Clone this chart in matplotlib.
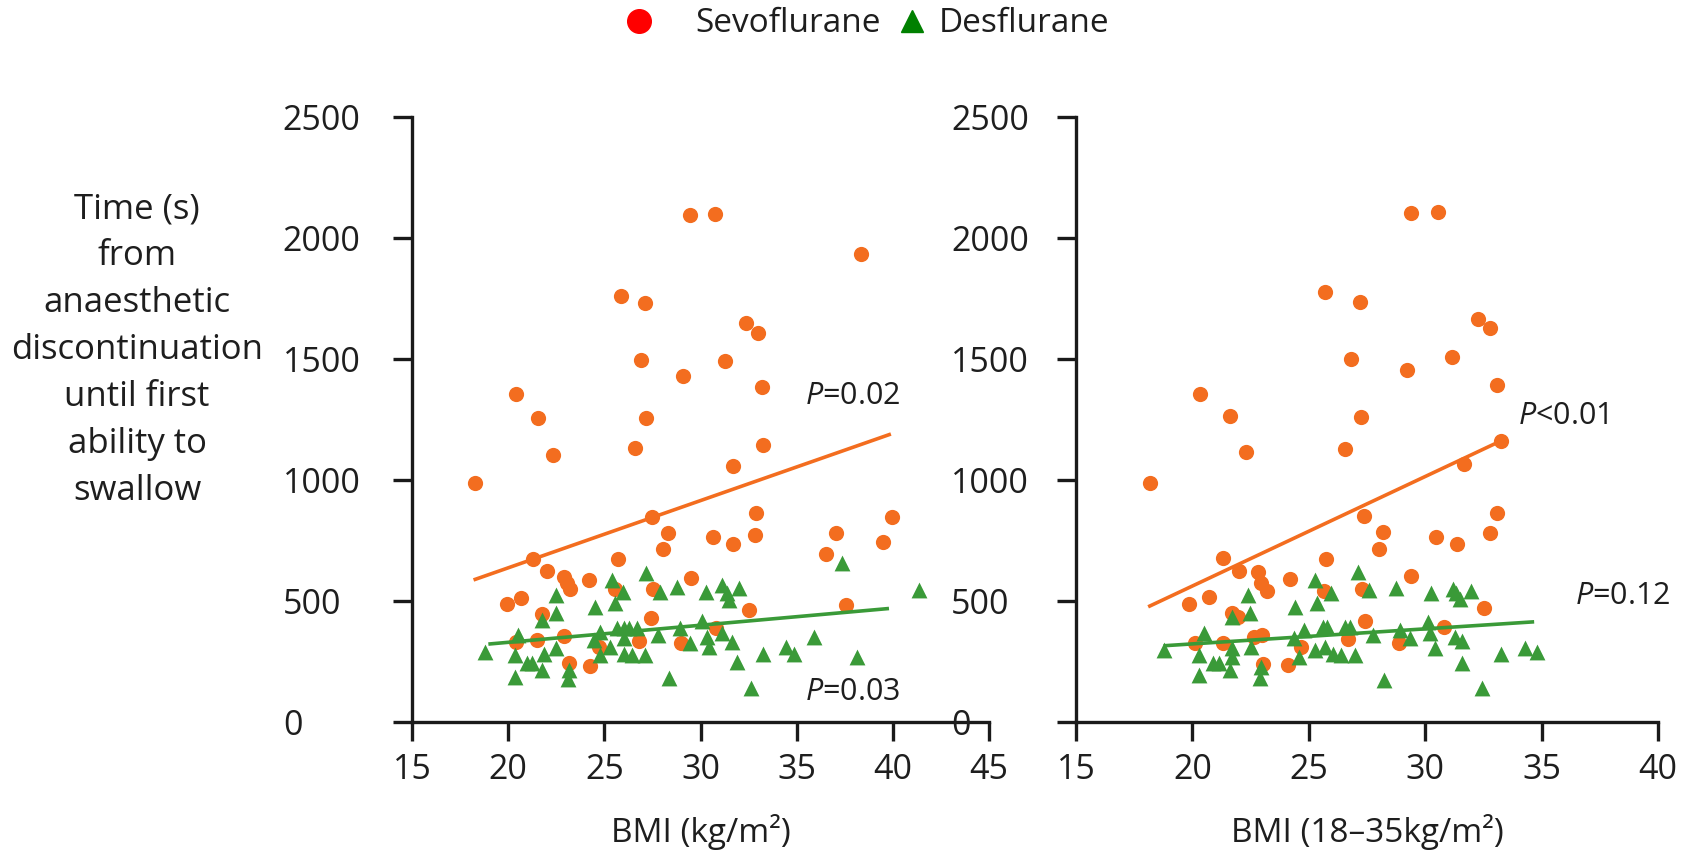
import matplotlib
matplotlib.use("Agg")
import matplotlib.pyplot as plt
from matplotlib.lines import Line2D

plt.rcParams['font.family'] = ['Open Sans', 'DejaVu Sans']
plt.rcParams['mathtext.fontset'] = 'custom'
plt.rcParams['mathtext.it'] = 'Open Sans:italic'
plt.rcParams['mathtext.rm'] = 'Open Sans'

# ---------------- data ----------------
# Left panel: all BMI
left_sevo_x = [29.48, 30.75, 38.33, 25.87, 27.1, 32.38, 33.0, 26.9, 31.27, 29.1, 33.18, 20.42, 21.55,
               27.19, 22.33, 26.58, 33.27, 31.68, 18.28, 27.48, 32.9, 39.98,
               28.3, 28.06, 30.64, 31.68, 32.83, 37.03, 36.5, 39.5, 37.55, 21.27, 22.0, 25.7, 22.9,
               23.05, 23.2, 24.2, 29.5, 19.93, 20.68, 25.57, 27.53, 32.5, 21.78, 27.43, 20.42, 21.49,
               22.88, 24.7, 26.78, 29.0, 30.78, 23.14, 24.23]
left_sevo_y = [2095, 2099, 1934, 1762, 1733, 1647, 1606, 1496, 1493, 1431, 1386, 1354, 1255,
               1257, 1103, 1131, 1145, 1059, 989, 848, 865, 848,
               782, 713, 766, 734, 773, 782, 694, 745, 483, 672, 625, 673, 598,
               573, 548, 587, 594, 486, 514, 548, 548, 463, 445, 428, 332, 339,
               355, 311, 336, 325, 387, 242, 233]

left_des_x = [18.77, 20.5, 20.36, 20.97, 21.23, 20.36, 21.84, 21.75, 21.78, 22.5, 22.5, 22.5, 23.14,
              23.11, 24.53, 24.44, 24.79, 24.79, 25.31, 25.4, 25.57, 25.97, 25.66, 26.0, 26.27, 26.7,
              26.0, 26.0, 26.44, 27.14, 27.17, 27.9, 27.8, 28.35, 28.78, 28.96, 29.48, 30.1, 30.26,
              30.35, 30.43, 31.12, 31.38, 31.47, 32.0, 31.12, 31.64, 31.9, 32.6, 33.27, 34.43, 34.86,
              35.9, 37.38, 38.16, 41.35]
left_des_y = [290, 359, 277, 242, 242, 187, 283, 215, 421, 525, 449, 304, 215,
              178, 474, 339, 373, 277, 311, 587, 490, 538, 387, 387, 387, 387,
              346, 283, 277, 277, 614, 538, 359, 180, 556, 387, 325, 419, 538,
              352, 311, 566, 532, 504, 552, 366, 332, 246, 139, 283, 311, 283,
              352, 656, 270, 545]

# Right panel: BMI 18-35
right_sevo_x = [29.4, 30.55, 25.7, 27.2, 32.28, 32.8, 26.8, 31.15, 29.2, 33.1, 20.34, 21.6, 27.24,
                22.3, 26.56, 33.27, 31.67, 18.2, 27.37, 33.1,
                28.2, 28.0, 30.47, 31.38, 32.8, 32.53, 29.4, 21.3, 22.0, 22.83, 22.94, 23.19, 24.2,
                25.73, 25.67, 27.3, 19.84, 20.7, 21.68, 21.97, 27.4, 30.8, 20.1, 21.3, 22.64, 23.0,
                24.66, 26.7, 28.86, 23.05, 24.1]
right_sevo_y = [2102, 2109, 1776, 1737, 1665, 1627, 1500, 1509, 1454, 1393, 1355, 1264, 1262,
                1114, 1128, 1161, 1066, 989, 853, 862,
                786, 715, 763, 734, 780, 470, 603, 676, 624, 621, 573, 543, 591,
                672, 543, 548, 488, 515, 449, 435, 419, 391, 325, 325, 352, 359,
                311, 342, 325, 240, 236]

right_des_x = [18.76, 20.5, 20.29, 20.87, 21.16, 20.3, 21.68, 21.7, 21.7, 21.6, 22.4, 22.47, 22.5,
               22.93, 22.9, 24.4, 24.35, 24.6, 24.8, 25.26, 25.34, 25.95, 25.6, 25.8, 25.26, 25.7,
               26.06, 26.4, 26.56, 26.78, 27.0, 27.1, 27.6, 27.75, 28.25, 28.75, 28.9, 29.35, 30.1,
               30.22, 30.26, 30.43, 31.2, 31.34, 31.5, 31.97, 31.27, 31.6, 31.6, 32.46, 33.25, 34.3,
               34.8]
right_des_y = [297, 366, 277, 245, 245, 194, 435, 304, 270, 215, 525, 449, 311,
               229, 180, 474, 346, 270, 380, 587, 490, 532, 394, 394, 297, 311,
               283, 277, 394, 394, 277, 621, 545, 359, 174, 552, 380, 346, 414,
               366, 534, 304, 548, 532, 507, 543, 352, 336, 242, 139, 283, 304,
               290]

# fitted regression lines (endpoints)
left_sevo_fit_x = [18.2, 39.9]
left_sevo_fit_y = [587, 1190]
left_des_fit_x = [18.97, 39.8]
left_des_fit_y = [322, 469]
right_sevo_fit_x = [18.1, 33.24]
right_sevo_fit_y = [476, 1161]
right_des_fit_x = [18.76, 34.68]
right_des_fit_y = [315, 414]

left_p = [("$\\it{P}$=0.02", 35.45, 1347), ("$\\it{P}$=0.03", 35.45, 122)]
right_p = [("$\\it{P}$<0.01", 33.98, 1266), ("$\\it{P}$=0.12", 36.42, 522)]

y_ticks = [0, 500, 1000, 1500, 2000, 2500]
left_x_ticks = [15, 20, 25, 30, 35, 40, 45]
right_x_ticks = [15, 20, 25, 30, 35, 40]

ylabel_text = "Time (s)\nfrom\nanaesthetic\ndiscontinuation\nuntil first\nability to\nswallow"
left_xlabel = "BMI (kg/m²)"
right_xlabel = "BMI (18–35kg/m²)"
legend_labels = ["Sevoflurane", "Desflurane"]

# ---------------- style ----------------
ORANGE = '#F36D1F'
GREEN = '#3A9A38'
AXC = '#1a1a1a'
TXT = '#1e1e1e'

W, H = 1689, 856
fig = plt.figure(figsize=(W / 100, H / 100), dpi=100)

axL = fig.add_axes([412 / W, 1 - 722 / H, 577 / W, 605 / H])
axR = fig.add_axes([1076 / W, 1 - 722 / H, 582 / W, 605 / H])


def style(ax, xlim, xticks, ypad, xlabel):
    ax.set_xlim(*xlim)
    ax.set_ylim(0, 2500)
    ax.set_xticks(xticks)
    ax.set_yticks(y_ticks)
    for s in ['top', 'right']:
        ax.spines[s].set_visible(False)
    for s in ['left', 'bottom']:
        ax.spines[s].set_linewidth(2.4)
        ax.spines[s].set_color(AXC)
    ax.tick_params(axis='both', direction='out', length=14, width=2.4, color=AXC,
                   labelsize=24.5, labelcolor=TXT)
    ax.tick_params(axis='y', pad=ypad)
    ax.tick_params(axis='x', pad=8)
    for lab in ax.get_yticklabels():
        lab.set_horizontalalignment('left')
    ax.set_xlabel(xlabel, fontsize=24, color=TXT, labelpad=20)


def draw(ax, sx, sy, dx, dy, sfx, sfy, dfx, dfy, ptexts):
    ax.scatter(sx, sy, s=120, marker='o', color=ORANGE, linewidths=0, zorder=3, clip_on=False)
    ax.scatter(dx, dy, s=130, marker='^', color=GREEN, linewidths=0, zorder=4, clip_on=False)
    ax.plot(sfx, sfy, color=ORANGE, lw=2.6, zorder=5, solid_capstyle='butt')
    ax.plot(dfx, dfy, color=GREEN, lw=2.6, zorder=5, solid_capstyle='butt')
    for t, x, y in ptexts:
        ax.text(x, y, t, fontsize=22, color=TXT, ha='left', va='center')


draw(axL, left_sevo_x, left_sevo_y, left_des_x, left_des_y,
     left_sevo_fit_x, left_sevo_fit_y, left_des_fit_x, left_des_fit_y, left_p)
draw(axR, right_sevo_x, right_sevo_y, right_des_x, right_des_y,
     right_sevo_fit_x, right_sevo_fit_y, right_des_fit_x, right_des_fit_y, right_p)

style(axL, (15, 45), left_x_ticks, 79, left_xlabel)
style(axR, (15, 40), right_x_ticks, 76, right_xlabel)

axL.set_ylabel(ylabel_text, rotation=0, fontsize=25, color=TXT,
               ha='center', va='center', linespacing=1.5)
axL.yaxis.set_label_coords((137 - 412) / 577, (722 - 350) / 605)

# legend (two single-entry legends to match spacing)
fs_leg = 24
fs_px = fs_leg * 100 / 72
h1 = Line2D([], [], marker='o', color='#FF0000', linestyle='none', markersize=17)
h2 = Line2D([], [], marker='^', color='#008000', linestyle='none', markersize=16)
L = 1.0
fig.legend(handles=[h1], labels=[legend_labels[0]], loc='center left',
           bbox_to_anchor=((639 - L / 2 * fs_px) / W, 1 - 24 / H), frameon=False,
           fontsize=fs_leg, handlelength=L, handletextpad=(56 - L / 2 * fs_px) / fs_px,
           borderpad=0, borderaxespad=0, labelcolor=TXT)
fig.legend(handles=[h2], labels=[legend_labels[1]], loc='center left',
           bbox_to_anchor=((912 - L / 2 * fs_px) / W, 1 - 24 / H), frameon=False,
           fontsize=fs_leg, handlelength=L, handletextpad=(27 - L / 2 * fs_px) / fs_px,
           borderpad=0, borderaxespad=0, labelcolor=TXT)

fig.savefig('out.png', dpi=100, facecolor='white')
